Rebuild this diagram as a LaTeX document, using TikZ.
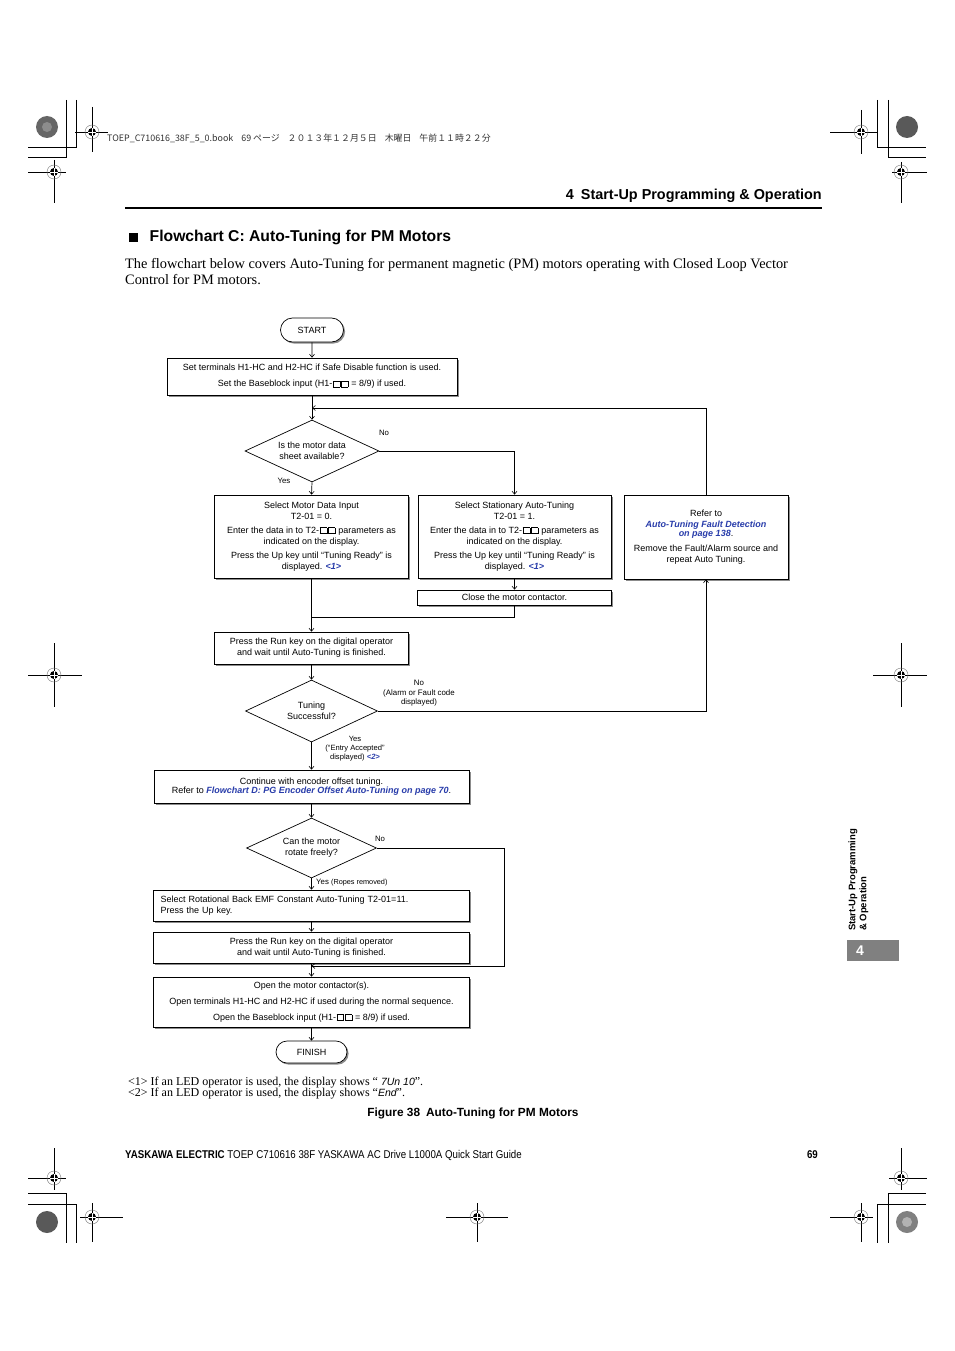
\documentclass[tikz,border=0pt]{standalone}
\usepackage{fontspec}
\setmainfont{Liberation Serif}
\setsansfont{Liberation Sans}
\newfontfamily\cjkfont{Noto Sans CJK JP}
\newfontfamily\narrowfont[FakeStretch=0.86]{Liberation Sans}
\usetikzlibrary{shapes.geometric,shapes.misc,arrows.meta,shadows,calc}
\definecolor{linkblue}{RGB}{40,60,170}
\newcommand\lnk[1]{{\color{linkblue}\bfseries\itshape #1}}
\newcommand\sqb{\kern0.5pt\raisebox{0pt}{\fboxsep=0pt\fboxrule=0.4pt\fbox{\rule{0pt}{0.62em}\hspace{0.72em}}}\kern0.5pt}
\newcommand\fcf{\sffamily\fontsize{9}{11}\selectfont}
\newcommand\lblf{\sffamily\fontsize{7.8}{9.5}\selectfont}
\newcommand\regmark[6]{%
  \draw[line width=0.6pt] ({#1-#3},#2) -- ({#1+#4},#2) (#1,{#2-#5}) -- (#1,{#2+#6});
  \draw[black!55, line width=0.4pt] (#1,#2) circle[radius=7pt];
  \fill (#1,#2) circle[radius=4pt];
  \draw[white, line width=0.8pt] ({#1-4},#2) -- ({#1+4},#2) (#1,{#2-4}) -- (#1,{#2+4});
}
\tikzset{
  shade box/.style={drop shadow={shadow xshift=1.6pt, shadow yshift=-1.6pt, fill=black!45, opacity=1}},
  fcbox/.style={draw, line width=0.7pt, fill=white, align=center, inner sep=0pt, font=\fcf, shade box},
  term/.style={rounded rectangle, draw, line width=0.7pt, fill=white, inner sep=0pt, font=\fcf, shade box},
  decision/.style={diamond, aspect=2.2, draw, line width=0.7pt, fill=white, align=center, inner sep=0pt, font=\fcf},
  link/.style={line width=0.7pt},
  arr/.style={line width=0.7pt, -{Straight Barb[length=3pt,width=5pt,line width=0.6pt]}},
  lbl/.style={font=\lblf, align=center, inner sep=0pt},
}
\begin{document}
\begin{tikzpicture}[x=1pt,y=-1pt]
\path[fill=white] (0,0) rectangle (954,1351);

% ---------- registration / crop marks ----------
\draw[line width=0.6pt] (76,100) -- (76,147) -- (28,147) (66,100) -- (66,157) -- (28,157);
\draw[line width=0.6pt] (877,100) -- (877,147) -- (926,147) (888,100) -- (888,157) -- (926,157);
\draw[line width=0.6pt] (28,1193) -- (66,1193) -- (66,1243) (28,1204) -- (76,1204) -- (76,1243);
\draw[line width=0.6pt] (926,1193) -- (888,1193) -- (888,1243) (926,1204) -- (877,1204) -- (877,1243);
\fill[black!60] (47,127) circle[radius=11pt];
\fill[black!45] (47,127) circle[radius=5pt];
\fill[black!65] (907,127) circle[radius=11pt];
\fill[black!65] (47,1222) circle[radius=11pt];
\fill[black!50] (907,1222) circle[radius=11pt];
\fill[black!30] (907,1222) circle[radius=5pt];
\regmark{92}{132}{17}{16}{25}{20}
\regmark{54}{172}{26}{12}{12}{31}
\regmark{861}{132}{31}{16}{22}{22}
\regmark{901}{172}{9}{26}{10}{31}
\regmark{54}{675}{26}{28}{32}{32}
\regmark{901}{675}{28}{26}{32}{32}
\regmark{54}{1178}{26}{12}{30}{12}
\regmark{92}{1217}{12}{31}{14}{25}
\regmark{477}{1217}{31}{31}{14}{25}
\regmark{861}{1217}{31}{12}{14}{25}
\regmark{901}{1178}{12}{26}{30}{12}

\node[anchor=west, inner sep=0, font=\cjkfont\fontsize{8.9}{10}\selectfont, text=black!80] (jp) at (107,138)
  {TOEP\_C710616\_38F\_5\_0.book\hspace{0.9em}69 ページ\hspace{0.9em}２０１３年１２月５日\hspace{0.9em}木曜日\hspace{0.9em}午前１１時２２分};

% ---------- page header ----------
\node[anchor=east, inner sep=0, font=\sffamily\bfseries\fontsize{14.4}{16}\selectfont] (hdr) at (822,196) {4\hspace{0.5em}Start-Up Programming \& Operation};
\draw[line width=2pt] (125,208) -- (822,208);
\fill (128.5,232.5) rectangle (138,242);
\node[anchor=west, inner sep=0, font=\sffamily\bfseries\fontsize{15.7}{18}\selectfont] (title) at (149.5,237.5) {Flowchart C: Auto-Tuning for PM Motors};
\node[anchor=base west, inner sep=0, font=\fontsize{14.37}{16}\selectfont] (body1) at (125,268.5) {The flowchart below covers Auto-Tuning for permanent magnetic (PM) motors operating with Closed Loop Vector};
\node[anchor=base west, inner sep=0, font=\fontsize{14.37}{16}\selectfont] (body2) at (125,284.5) {Control for PM motors.};

% ---------- flowchart ----------
\node[term, minimum width=63pt, minimum height=24pt] (start) at (312,330) {START};
\node[fcbox, minimum width=290pt, minimum height=37pt] (box1) at (312,376.5)
  {Set terminals H1-HC and H2-HC if Safe Disable function is used.\\[5pt]Set the Baseblock input (H1-\sqb\sqb{} = 8/9) if used.};
\node[decision, minimum width=134pt, minimum height=62pt] (d1) at (312,451) {Is the motor data\\sheet available?};
\node[fcbox, minimum width=194pt, minimum height=83pt] (box2) at (311.5,536.5)
  {Select Motor Data Input\\T2-01 = 0.\\[3pt]Enter the data in to T2-\sqb\sqb{} parameters as\\indicated on the display.\\[3pt]Press the Up key until “Tuning Ready” is\\displayed. \lnk{<1>}};
\node[fcbox, minimum width=193pt, minimum height=83pt] (box3) at (514.5,536.5)
  {Select Stationary Auto-Tuning\\T2-01 = 1.\\[3pt]Enter the data in to T2-\sqb\sqb{} parameters as\\indicated on the display.\\[3pt]Press the Up key until “Tuning Ready” is\\displayed. \lnk{<1>}};
\node[fcbox, minimum width=164pt, minimum height=84pt] (box4) at (706,537)
  {Refer to\\\lnk{Auto-Tuning Fault Detection}\\[-2pt]\lnk{on page 138}.\\[4pt]Remove the Fault/Alarm source and\\repeat Auto Tuning.};
\node[fcbox, minimum width=194pt, minimum height=15pt] (close) at (514.5,597.5) {Close the motor contactor.};
\node[fcbox, minimum width=194pt, minimum height=32pt] (box5) at (311.5,648)
  {Press the Run key on the digital operator\\and wait until Auto-Tuning is finished.};
\node[decision, minimum width=132pt, minimum height=62pt] (d2) at (311.5,711) {Tuning\\Successful?};
\node[fcbox, minimum width=315pt, minimum height=33pt] (box6) at (311.5,786.5)
  {Continue with encoder offset tuning.\\[-2pt]Refer to \lnk{Flowchart D: PG Encoder Offset Auto-Tuning on page 70}.};
\node[decision, minimum width=130pt, minimum height=60pt] (d3) at (311.5,848) {Can the motor\\rotate freely?};
\node[fcbox, minimum width=316pt, minimum height=31pt, text width=302pt, align=left] (box8) at (311.5,905.5)
  {Select Rotational Back EMF Constant Auto-Tuning T2-01=11.\\Press the Up key.};
\node[fcbox, minimum width=316pt, minimum height=31pt] (box9) at (311.5,947.5)
  {Press the Run key on the digital operator\\and wait until Auto-Tuning is finished.};
\node[fcbox, minimum width=316pt, minimum height=50pt] (box10) at (311.5,1002)
  {Open the motor contactor(s).\\[5pt]Open terminals H1-HC and H2-HC if used during the normal sequence.\\[5pt]Open the Baseblock input (H1-\sqb\sqb{} = 8/9) if used.};
\node[term, minimum width=71pt, minimum height=22pt] (finish) at (311.5,1052) {FINISH};

% junctions
\coordinate (j1) at (312,408);
\coordinate (j2) at (311.5,617);
\coordinate (j3) at (311.5,966);
\coordinate (r3) at (504,848);

% connectors
\draw[arr] (start) -- (box1);
\draw[arr] (box1.south) -- (d1.north);
\draw[arr] (box4.north) |- (j1);
\draw[arr] (d1.east) -| (box3.north);
\draw[arr] (d1.south) -- (box2.north);
\draw[arr] (box3.south) -- (close.north);
\draw[link] (close.south) |- (j2);
\draw[arr] (box2.south) -- (box5.north);
\draw[arr] (box5.south) -- (d2.north);
\draw[arr] (d2.east) -| (box4.south);
\draw[arr] (d2.south) -- (box6.north);
\draw[arr] (box6.south) -- (d3.north);
\draw[arr] (d3.south) -- (box8.north);
\draw[arr] (d3.east) -- (r3) |- (j3);
\draw[arr] (box8.south) -- (box9.north);
\draw[arr] (box9.south) -- (box10.north);
\draw[arr] (box10.south) -- (finish.north);

% labels
\node[lbl] (no1) at (384,433) {No};
\node[lbl] (yes1) at (284,481) {Yes};
\node[lbl, font=\sffamily\fontsize{7.9}{9.5}\selectfont] (no2) at (419,693.5) {No\\(Alarm or Fault code\\displayed)};
\node[lbl, font=\sffamily\fontsize{7.6}{9.3}\selectfont] (yes2) at (355,748.5) {Yes\\(“Entry Accepted”\\displayed) \lnk{<2>}};
\node[lbl] (no3) at (380,839) {No};
\node[lbl, anchor=west] (yes3) at (316,883) {Yes \fontsize{7.3}{9}\selectfont(Ropes removed)};

% footnotes and caption
\node[anchor=base west, inner sep=0, font=\fontsize{12}{13}\selectfont] (fn1) at (128,1085)
  {<1> If an LED operator is used, the display shows “ {\sffamily\itshape\fontsize{10.5}{12}\selectfont 7Un 10}”.};
\node[anchor=base west, inner sep=0, font=\fontsize{12}{13}\selectfont] (fn2) at (128,1096)
  {<2> If an LED operator is used, the display shows “{\sffamily\itshape\fontsize{10.5}{12}\selectfont End}”.};
\node[inner sep=0, font=\sffamily\bfseries\fontsize{11.85}{13}\selectfont] (cap) at (473,1113) {Figure 38\hspace{0.5em}Auto-Tuning for PM Motors};

% side tab
\node[rotate=90, anchor=west, align=left, inner sep=0, font=\sffamily\bfseries\fontsize{9.5}{11}\selectfont] (tab) at (858.5,931) {Start-Up Programming\\\& Operation};
\fill[black!50] (847,940) rectangle (899,961);
\node[inner sep=0, text=white, font=\sffamily\bfseries\fontsize{14}{16}\selectfont] (tabnum) at (860,950.5) {4};

% footer
\node[anchor=west, inner sep=0, font=\narrowfont\fontsize{11.3}{12}\selectfont] (foot) at (125,1155)
  {\textbf{YASKAWA ELECTRIC} TOEP C710616 38F YASKAWA AC Drive L1000A Quick Start Guide};
\node[anchor=east, inner sep=0, font=\narrowfont\bfseries\fontsize{11.3}{12}\selectfont] (pg) at (818,1155) {69};
\end{tikzpicture}
\end{document}
